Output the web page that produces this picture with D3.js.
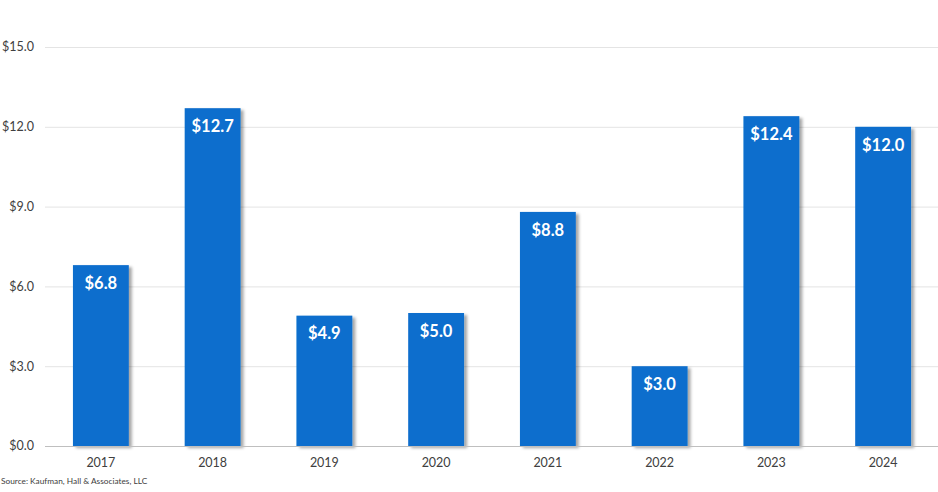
<!DOCTYPE html>
<html>
<head>
<meta charset="utf-8">
<script src="https://cdn.jsdelivr.net/npm/d3@7"></script>
<style>
  html, body { margin: 0; padding: 0; background: #fff; }
  svg { display: block; font-family: Lato, "Noto Sans", sans-serif; }
</style>
</head>
<body>
<svg id="chart" width="938" height="492"></svg>
<script>
const years = ["2017", "2018", "2019", "2020", "2021", "2022", "2023", "2024"];
const values = [6.8, 12.7, 4.9, 5.0, 8.8, 3.0, 12.4, 12.0];
const yTicks = [0, 3, 6, 9, 12, 15];
const source = "Source: Kaufman, Hall & Associates, LLC";

const svg = d3.select("#chart");
const margin = { top: 47, right: 0, bottom: 46, left: 45 };
const width = 938 - margin.left;
const height = 492 - margin.top - margin.bottom;

const x = d3.scaleBand()
    .domain(years)
    .range([0, width + 1])
    .paddingInner(0.5)
    .paddingOuter(0.25);

const y = d3.scaleLinear()
    .domain([0, 15])
    .range([height, 0]);

const defs = svg.append("defs");
const filter = defs.append("filter")
    .attr("id", "shadow")
    .attr("x", "-10%").attr("y", "-10%")
    .attr("width", "130%").attr("height", "130%");
filter.append("feDropShadow")
    .attr("dx", 3).attr("dy", 2)
    .attr("stdDeviation", 1.5)
    .attr("flood-color", "#000")
    .attr("flood-opacity", 0.35);

const g = svg.append("g").attr("transform", "translate(" + margin.left + "," + margin.top + ")");

// gridlines
g.append("g")
  .selectAll("line")
  .data(yTicks.filter(d => d > 0))
  .join("line")
    .attr("x1", 0)
    .attr("x2", width)
    .attr("y1", d => y(d) + 0.5)
    .attr("y2", d => y(d) + 0.5)
    .attr("stroke", "#e4e4e4")
    .attr("stroke-width", 1);

// y labels
g.append("g")
  .selectAll("text")
  .data(yTicks)
  .join("text")
    .attr("x", -11)
    .attr("y", d => y(d))
    .attr("dy", "0.35em")
    .attr("text-anchor", "end")
    .attr("font-size", 12.5)
    .attr("fill", "#404040")
    .text(d => "$" + d3.format(".1f")(d));

// bars
g.append("g")
  .selectAll("rect")
  .data(values)
  .join("rect")
    .attr("x", (d, i) => x(years[i]))
    .attr("y", d => y(d))
    .attr("width", x.bandwidth())
    .attr("height", d => height - y(d))
    .attr("fill", "#0a6ecd")
    .attr("filter", "url(#shadow)");

// axis line
g.append("line")
    .attr("x1", 0)
    .attr("x2", width)
    .attr("y1", height + 0.5)
    .attr("y2", height + 0.5)
    .attr("stroke", "#bfbfbf");

// value labels
g.append("g")
  .selectAll("text")
  .data(values)
  .join("text")
    .attr("x", (d, i) => x(years[i]) + x.bandwidth() / 2)
    .attr("y", d => y(d) + 18)
    .attr("dy", "0.35em")
    .attr("text-anchor", "middle")
    .attr("font-size", 16.5)
    .attr("font-weight", "bold")
    .attr("fill", "#fff")
    .text(d => "$" + d3.format(".1f")(d));

// x labels
g.append("g")
  .selectAll("text")
  .data(years)
  .join("text")
    .attr("x", d => x(d) + x.bandwidth() / 2)
    .attr("y", height + 17)
    .attr("dy", "0.35em")
    .attr("text-anchor", "middle")
    .attr("font-size", 12.5)
    .attr("fill", "#404040")
    .text(d => d);

svg.append("text")
    .attr("x", 1)
    .attr("y", 484)
    .attr("font-size", 8.3)
    .attr("fill", "#404040")
    .text(source);
</script>
</body>
</html>
